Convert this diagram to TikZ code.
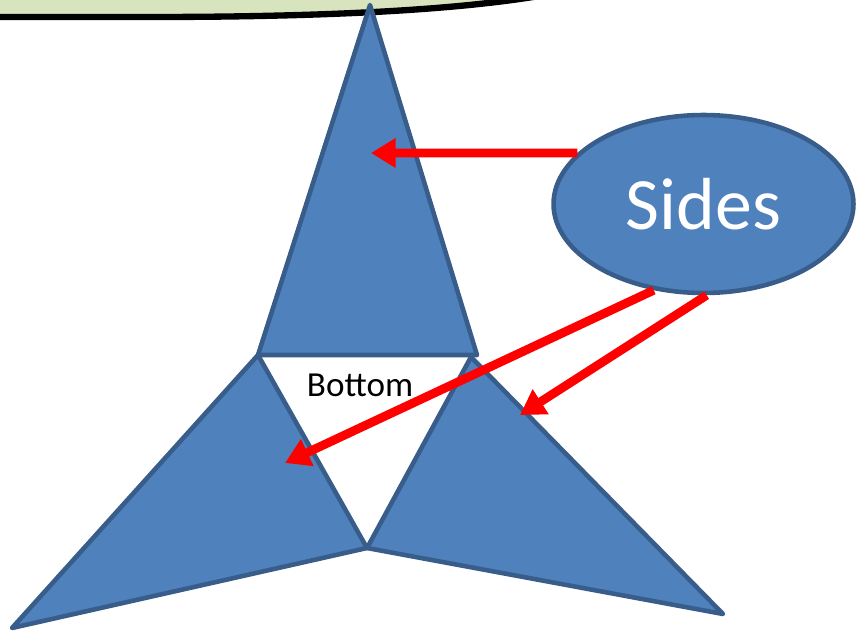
\documentclass[tikz,border=0pt]{standalone}
\usepackage{fontspec}
\setmainfont{Carlito}
\usetikzlibrary{shapes.geometric, arrows.meta, positioning}
\definecolor{faccia}{HTML}{4F81BD}
\definecolor{bordo}{HTML}{385D8A}
\definecolor{verde}{HTML}{D7E4BD}

\begin{document}
\begin{tikzpicture}[x=0.02cm, y=-0.02cm,
  faccia/.style={fill=faccia, draw=bordo, line width=2.6pt, line join=round},
  freccia/.style={red, line width=5pt, -{Triangle[length=14pt, width=16pt]}}]
\useasboundingbox (0,0) rectangle (861,631);
% riquadro verde in alto
\begin{scope}
  \clip (0,0) rectangle (861,631);
  \draw[fill=verde, line width=3.6pt] (-20,-100) -- (-20,17) -- (150,17)
    .. controls (350,17) and (470,8) .. (545,-5) -- (560,-100) -- cycle;
\end{scope}
% vertici
\coordinate (apice) at (370,5);
\coordinate (bs) at (258,355);
\coordinate (bd) at (477,355);
\coordinate (bd2) at (471,357);
\coordinate (centro) at (367,548);
\coordinate (sx) at (12,628);
\coordinate (dx) at (723,614);
% facce laterali
\draw[faccia] (bs) -- (centro) -- (sx) -- cycle;
\draw[faccia] (bd2) -- (dx) -- (centro) -- cycle;
\draw[faccia] (apice) -- (bd) -- (bs) -- cycle;
\node[font=\fontsize{20}{24}\selectfont] (bottom) at (360,385) {Bottom};
% ellisse
\node[ellipse, faccia, minimum width=6cm, minimum height=3.56cm, inner sep=0pt,
  text=white, font=\fontsize{42}{50}\selectfont] (sides) at (703.5,204) {Sides};
% frecce
\coordinate (t1) at (371,153);
\coordinate (t2) at (285,463);
\coordinate (t3) at (520,415);
\draw[freccia] (sides.158) -- (t1);
\draw[freccia] (sides.240) -- (t2);
\draw[freccia] (sides.272) -- (t3);
\end{tikzpicture}
\end{document}
